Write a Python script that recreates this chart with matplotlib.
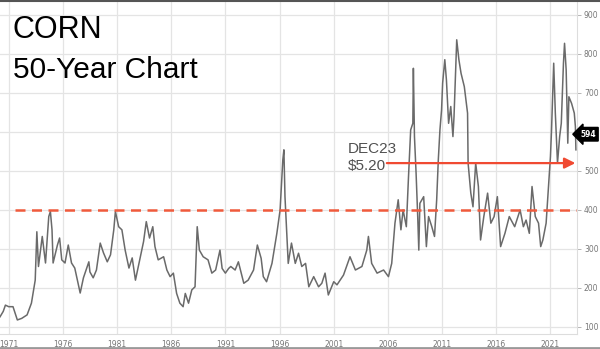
import matplotlib
matplotlib.use("Agg")
import matplotlib.pyplot as plt
from matplotlib.lines import Line2D

# corn futures, cents per bushel (decimal year, price)
years = [1970.2, 1970.5, 1970.7, 1971.0, 1971.4, 1971.8, 1972.2, 1972.7, 1973.1, 1973.45,
         1973.6, 1973.75, 1974.1, 1974.4, 1974.7, 1974.85, 1975.0, 1975.1, 1975.5, 1975.7,
         1975.9, 1976.2, 1976.5, 1976.8, 1977.1, 1977.6, 1977.9, 1978.4, 1978.5, 1978.8,
         1979.1, 1979.45, 1979.75, 1980.1, 1980.4, 1980.7, 1980.85, 1981.15, 1981.45, 1981.75,
         1982.1, 1982.4, 1982.7, 1983.15, 1983.45, 1983.7, 1984.0, 1984.3, 1984.5, 1984.8,
         1985.3, 1985.6, 1985.9, 1986.2, 1986.5, 1986.8, 1987.1, 1987.3, 1987.6, 1987.9,
         1988.2, 1988.4, 1988.6, 1988.95, 1989.4, 1989.75, 1990.1, 1990.5, 1990.7, 1991.0,
         1991.3, 1991.5, 1991.9, 1992.2, 1992.7, 1993.1, 1993.6, 1993.95, 1994.3, 1994.5,
         1994.8, 1995.3, 1995.75, 1996.05, 1996.3, 1996.4, 1996.5, 1996.65, 1996.8, 1997.1,
         1997.45, 1997.75, 1998.05, 1998.4, 1998.7, 1999.15, 1999.6, 1999.9, 2000.2, 2000.5,
         2001.0, 2001.3, 2001.9, 2002.5, 2003.0, 2003.6, 2004.05, 2004.2, 2004.5, 2005.0,
         2005.6, 2006.05, 2006.35, 2006.65, 2006.95, 2007.2, 2007.4, 2007.7, 2007.9, 2008.1,
         2008.3, 2008.35, 2008.45, 2008.6, 2008.75, 2008.85, 2008.95, 2009.3, 2009.55, 2009.75,
         2010.05, 2010.3, 2010.5, 2010.65, 2010.8, 2010.95, 2011.05, 2011.25, 2011.4, 2011.6,
         2011.8, 2012.0, 2012.1, 2012.35, 2012.55, 2012.75, 2013.05, 2013.35, 2013.4, 2013.65,
         2013.85, 2014.1, 2014.35, 2014.55, 2014.85, 2015.2, 2015.5, 2015.8, 2016.1, 2016.4,
         2016.8, 2017.2, 2017.7, 2018.2, 2018.5, 2018.75, 2019.05, 2019.3, 2019.6, 2019.9,
         2020.1, 2020.3, 2020.6, 2020.8, 2021.0, 2021.1, 2021.3, 2021.45, 2021.65, 2021.85,
         2022.0, 2022.2, 2022.3, 2022.45, 2022.6, 2022.7, 2022.95, 2023.2, 2023.3, 2023.35]
prices = [126, 140, 156, 152, 152, 118, 122, 131, 161, 220,
          344, 255, 332, 264, 383, 396, 349, 264, 310, 328,
          272, 264, 310, 264, 251, 187, 226, 267, 241, 226,
          246, 315, 290, 267, 285, 349, 396, 357, 349, 297,
          251, 277, 220, 280, 319, 370, 328, 357, 306, 272,
          280, 246, 229, 238, 186, 161, 152, 186, 161, 195,
          203, 357, 297, 280, 272, 238, 246, 297, 250, 238,
          250, 255, 246, 267, 212, 220, 246, 310, 276, 229,
          216, 263, 340, 400, 528, 554, 434, 349, 263, 315,
          263, 289, 255, 263, 203, 229, 203, 212, 238, 182,
          216, 208, 233, 280, 246, 255, 297, 332, 263, 238,
          246, 229, 263, 366, 426, 349, 400, 357, 485, 605,
          622, 763, 588, 494, 383, 297, 417, 434, 306, 383,
          357, 332, 426, 528, 605, 656, 725, 785, 733, 622,
          665, 588, 639, 836, 785, 750, 716, 648, 520, 443,
          408, 520, 460, 323, 383, 443, 366, 383, 434, 306,
          340, 383, 357, 400, 357, 374, 340, 460, 383, 366,
          306, 323, 366, 451, 537, 605, 776, 648, 520, 588,
          622, 776, 827, 759, 571, 690, 673, 648, 614, 554]

year_ticks = [1971, 1976, 1981, 1986, 1991, 1996, 2001, 2006, 2011, 2016, 2021]
price_ticks = [100, 200, 300, 400, 500, 600, 700, 800, 900]
level_400 = 400
dec23 = 520
last_price = 594

fig = plt.figure(figsize=(6.0, 3.49), dpi=100)
ax = fig.add_axes([0.0, 15 / 349, 577 / 600, 334 / 349])

ax.set_xlim(1970.2, 2023.45)
ax.set_ylim(82, 938)

# grille gris clair
ax.set_xticks(year_ticks)
ax.set_yticks(price_ticks)
ax.grid(True, color='#e4e4e4', linewidth=0.9)
ax.set_axisbelow(True)

ax.set_xticklabels([str(y) for y in year_ticks], fontsize=5.5, color='#777777')
ax.tick_params(axis='x', length=0, pad=4)
ax.yaxis.tick_right()
# le 600 est caché par l'étiquette du dernier prix
ax.set_yticklabels(['' if p == 600 else str(p) for p in price_ticks], fontsize=5.5, color='#777777')
ax.tick_params(axis='y', length=3, width=0.6, color='#aaaaaa', pad=2)

for s in ['top', 'left']:
    ax.spines[s].set_visible(False)
ax.spines['bottom'].set_color('#dddddd')
ax.spines['right'].set_color('#dddddd')

# courbe du prix
ax.plot(years, prices, color='#6a6a6a', linewidth=1.1)

# niveau 400 en pointillés rouges
ax.hlines(level_400, 1971.6, 2023.45, colors='#f05a3c', linestyles=(0, (4, 2.6)), linewidth=1.8)

# fleche DEC23
ax.annotate('', xy=(2023.3, dec23), xytext=(2005.9, dec23),
            arrowprops=dict(arrowstyle='-|>', color='#f04a32', lw=1.6, mutation_scale=16,
                            shrinkA=0, shrinkB=0))
ax.text(2002.3, 556, 'DEC23', fontsize=11, color='#505050', family='Liberation Sans',
        ha='left', va='center')
ax.text(2002.3, 512, '$5.20', fontsize=11, color='#505050', family='Liberation Sans',
        ha='left', va='center')

# etiquette du dernier prix
ax.text(2023.75, last_price, str(last_price), fontsize=5.5, color='white', fontweight='bold',
        ha='left', va='center', clip_on=False,
        bbox=dict(boxstyle='larrow,pad=0.3', fc='black', ec='black'))

# titre
fig.text(13 / 600, 1 - 38 / 349, 'CORN', fontsize=22, color='black', family='Liberation Sans',
         ha='left', va='baseline')
fig.text(13 / 600, 1 - 78 / 349, '50-Year Chart', fontsize=21.5, color='black',
         family='Liberation Sans', ha='left', va='baseline')

# bordures de l'image
fig.add_artist(Line2D([0, 1], [0.998, 0.998], transform=fig.transFigure, color='#555555', lw=1.5))
fig.add_artist(Line2D([0, 1], [0.003, 0.003], transform=fig.transFigure, color='#999999', lw=2))

fig.savefig('out.png', dpi=100)
plt.close('all')
